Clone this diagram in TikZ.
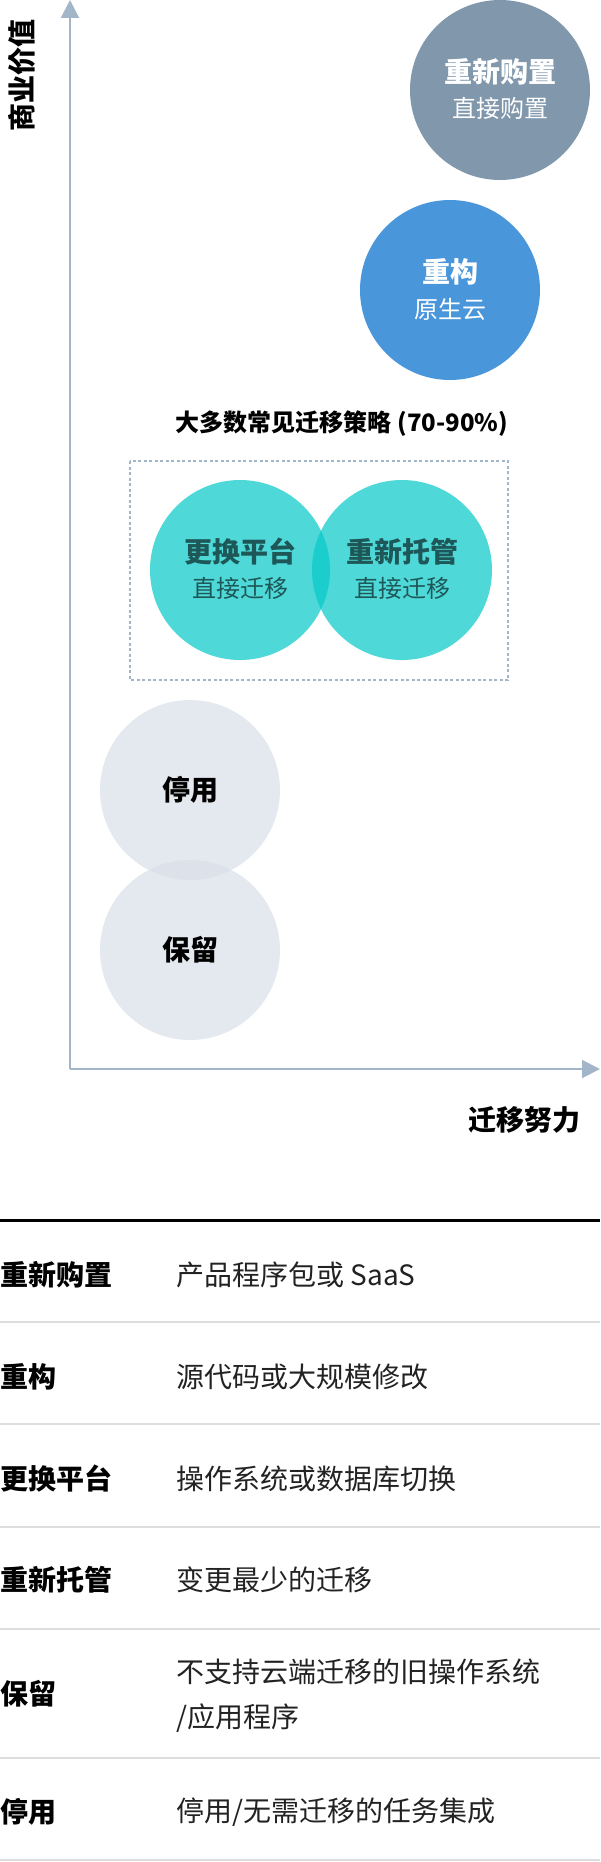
\documentclass[tikz,border=0pt]{standalone}
\usepackage{fontspec}
\setmainfont{Noto Sans CJK SC}
\usetikzlibrary{arrows.meta}
\definecolor{axisc}{RGB}{163,181,200}
\definecolor{repc}{RGB}{128,151,172}
\definecolor{refc}{RGB}{74,150,219}
\definecolor{tealc}{RGB}{6,200,200}
\definecolor{grayc}{RGB}{217,222,232}
\definecolor{tealtext}{RGB}{30,87,87}
\definecolor{rulec}{RGB}{221,221,221}
\definecolor{bodytext}{RGB}{34,34,34}
\tikzset{
  bubble/.style={circle, minimum size=90pt, inner sep=0pt, draw=none},
  ctitle/.style={inner sep=0pt, font=\fontsize{14}{17}\selectfont\bfseries},
  csub/.style={inner sep=0pt, font=\fontsize{12}{14}\selectfont},
  axislabel/.style={inner sep=0pt, font=\fontsize{14}{17}\selectfont\bfseries, text=black},
  grouplabel/.style={inner sep=0pt, font=\fontsize{12}{14}\selectfont\bfseries, text=black},
  axisline/.style={draw=axisc, line width=1pt, -{Triangle[length=9pt,width=9pt]}},
  rowhead/.style={anchor=west, inner sep=0pt, font=\fontsize{14}{17}\selectfont\bfseries, text=black},
  rowtext/.style={anchor=west, inner sep=0pt, align=left, font=\fontsize{14}{22.5}\selectfont, text=bodytext},
  seprule/.style={draw=rulec, line width=1pt},
}
\begin{document}
\begin{tikzpicture}[x=0.5pt,y=-0.5pt]
\useasboundingbox (0,0) rectangle (600,1862);
% axes
\coordinate (origin) at (70,1069);
\coordinate (ytip) at (70,0);
\coordinate (xtip) at (600,1069);
\draw[axisline] (origin) -- (ytip);
\draw[axisline] (origin) -- (xtip);
\node[axislabel, rotate=90] (ylab) at (22,76) {商业价值};
\node[axislabel] (xlab) at (524,1120) {迁移努力};
% top bubbles
\node[bubble, fill=repc] (rp) at (500,90) {};
\node[ctitle, text=white] (rpt) at ([yshift=9pt]rp.center) {重新购置};
\node[csub, text=white] (rps) at ([yshift=-9pt]rp.center) {直接购置};
\node[bubble, fill=refc] (rf) at (450,290) {};
\node[ctitle, text=white] (rft) at ([yshift=9pt]rf.center) {重构};
\node[csub, text=white] (rfs) at ([yshift=-9.5pt]rf.center) {原生云};
% common strategies
\node[grouplabel] (common) at (342,424) {大多数常见迁移策略 (70-90\%)};
\draw[draw=axisc, line width=1pt, dash pattern=on 1.5pt off 1.25pt] (130,461) rectangle (508,680);
\node[bubble, fill=tealc, fill opacity=0.71] (rpl) at (240,570) {};
\node[bubble, fill=tealc, fill opacity=0.71] (rh) at (402,570) {};
\node[ctitle, text=tealtext] (rplt) at ([yshift=9pt]rpl.center) {更换平台};
\node[csub, text=tealtext] (rpls) at ([yshift=-9pt]rpl.center) {直接迁移};
\node[ctitle, text=tealtext] (rht) at ([yshift=9pt]rh.center) {重新托管};
\node[csub, text=tealtext] (rhs) at ([yshift=-9pt]rh.center) {直接迁移};
% retire / retain
\node[bubble, fill=grayc, fill opacity=0.7] (rt) at (190,790) {};
\node[bubble, fill=grayc, fill opacity=0.7] (rn) at (190,950) {};
\node[ctitle, text=black] (rtt) at (rt.center) {停用};
\node[ctitle, text=black] (rnt) at (rn.center) {保留};
% table
\draw[draw=black, line width=1.5pt] (0,1220) -- (600,1220);
\draw[seprule] (0,1322) -- (600,1322);
\draw[seprule] (0,1424) -- (600,1424);
\draw[seprule] (0,1527) -- (600,1527);
\draw[seprule] (0,1629) -- (600,1629);
\draw[seprule] (0,1758) -- (600,1758);
\draw[seprule] (0,1860) -- (600,1860);
\node[rowhead] (h1) at (0,1275) {重新购置};
\node[rowtext] (d1) at (176,1275) {产品程序包或 SaaS};
\node[rowhead] (h2) at (0,1377) {重构};
\node[rowtext] (d2) at (176,1377) {源代码或大规模修改};
\node[rowhead] (h3) at (0,1479) {更换平台};
\node[rowtext] (d3) at (176,1479) {操作系统或数据库切换};
\node[rowhead] (h4) at (0,1580) {重新托管};
\node[rowtext] (d4) at (176,1580) {变更最少的迁移};
\node[rowhead] (h5) at (0,1694) {保留};
\node[rowtext] (d5) at (176,1696) {不支持云端迁移的旧操作系统\\/应用程序};
\node[rowhead] (h6) at (0,1812) {停用};
\node[rowtext] (d6) at (176,1812) {停用/无需迁移的任务集成};
\end{tikzpicture}
\end{document}
